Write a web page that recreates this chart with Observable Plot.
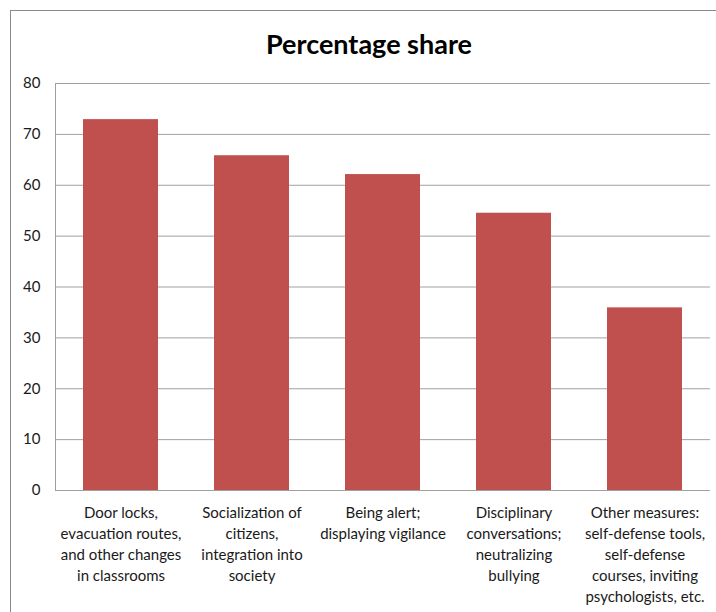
<!DOCTYPE html>
<html>
<head>
<meta charset="utf-8">
<script src="https://cdn.jsdelivr.net/npm/d3@7"></script>
<script src="https://cdn.jsdelivr.net/npm/@observablehq/plot@0.6"></script>
<style>
  html, body { margin: 0; padding: 0; background: #fff; overflow: hidden; }
  #wrap { position: relative; width: 716px; height: 612px; overflow: hidden; font-family: Lato, "Open Sans", sans-serif; }
  #frame { position: absolute; left: 10px; top: 10px; width: 720px; height: 640px; border: 1.5px solid #8a8a8a; box-sizing: border-box; }
  #title { position: absolute; left: 0; width: 738px; top: 27px; text-align: center; font-size: 27px; font-weight: bold; color: #000; }
  #chart { position: absolute; left: 0; top: 0; }
</style>
</head>
<body>
<div id="wrap">
  <div id="frame"></div>
  <div id="title">Percentage share</div>
  <div id="chart"></div>
</div>
<script>
const categories = ["Door locks", "Socialization", "Being alert", "Disciplinary", "Other measures"];
const values = [72.9, 65.8, 62.1, 54.5, 35.9];
const xTickLabels = [
  "Door locks,\nevacuation routes,\nand other changes\nin classrooms",
  "Socialization of\ncitizens,\nintegration into\nsociety",
  "Being alert;\ndisplaying vigilance",
  "Disciplinary\nconversations;\nneutralizing\nbullying",
  "Other measures:\nself-defense tools,\nself-defense\ncourses, inviting\npsychologists, etc."
];
const yTicks = [0, 10, 20, 30, 40, 50, 60, 70, 80];

const data = categories.map((c, i) => ({cat: c, value: values[i]}));
const labelOf = new Map(categories.map((c, i) => [c, xTickLabels[i]]));

const chart = Plot.plot({
  width: 716,
  height: 612,
  marginLeft: 55,
  marginRight: 6,
  marginTop: 83,
  marginBottom: 122,
  style: {fontFamily: "Lato, 'Open Sans', sans-serif", fontSize: "15px", color: "#1a1a1a", background: "transparent"},
  x: {domain: categories, paddingInner: 0.427, paddingOuter: 0.2135, label: null},
  y: {domain: [0, 80], label: null},
  marks: [
    Plot.gridY(yTicks.filter(d => d > 0), {stroke: "#a0a0a0", strokeOpacity: 1}),
    Plot.barY(data, {x: "cat", y: "value", fill: "#c0504d"}),
    Plot.ruleY([0], {stroke: "#a0a0a0"}),
    Plot.frame({anchor: "left", stroke: "#a0a0a0"}),
    Plot.axisY(yTicks, {tickSize: 0, tickPadding: 15, label: null, fontSize: 15}),
    Plot.axisX({tickSize: 0, tickPadding: 12, lineHeight: 1.41, fontSize: 15, tickFormat: d => labelOf.get(d), label: null})
  ]
});
document.getElementById("chart").appendChild(chart);
</script>
</body>
</html>
